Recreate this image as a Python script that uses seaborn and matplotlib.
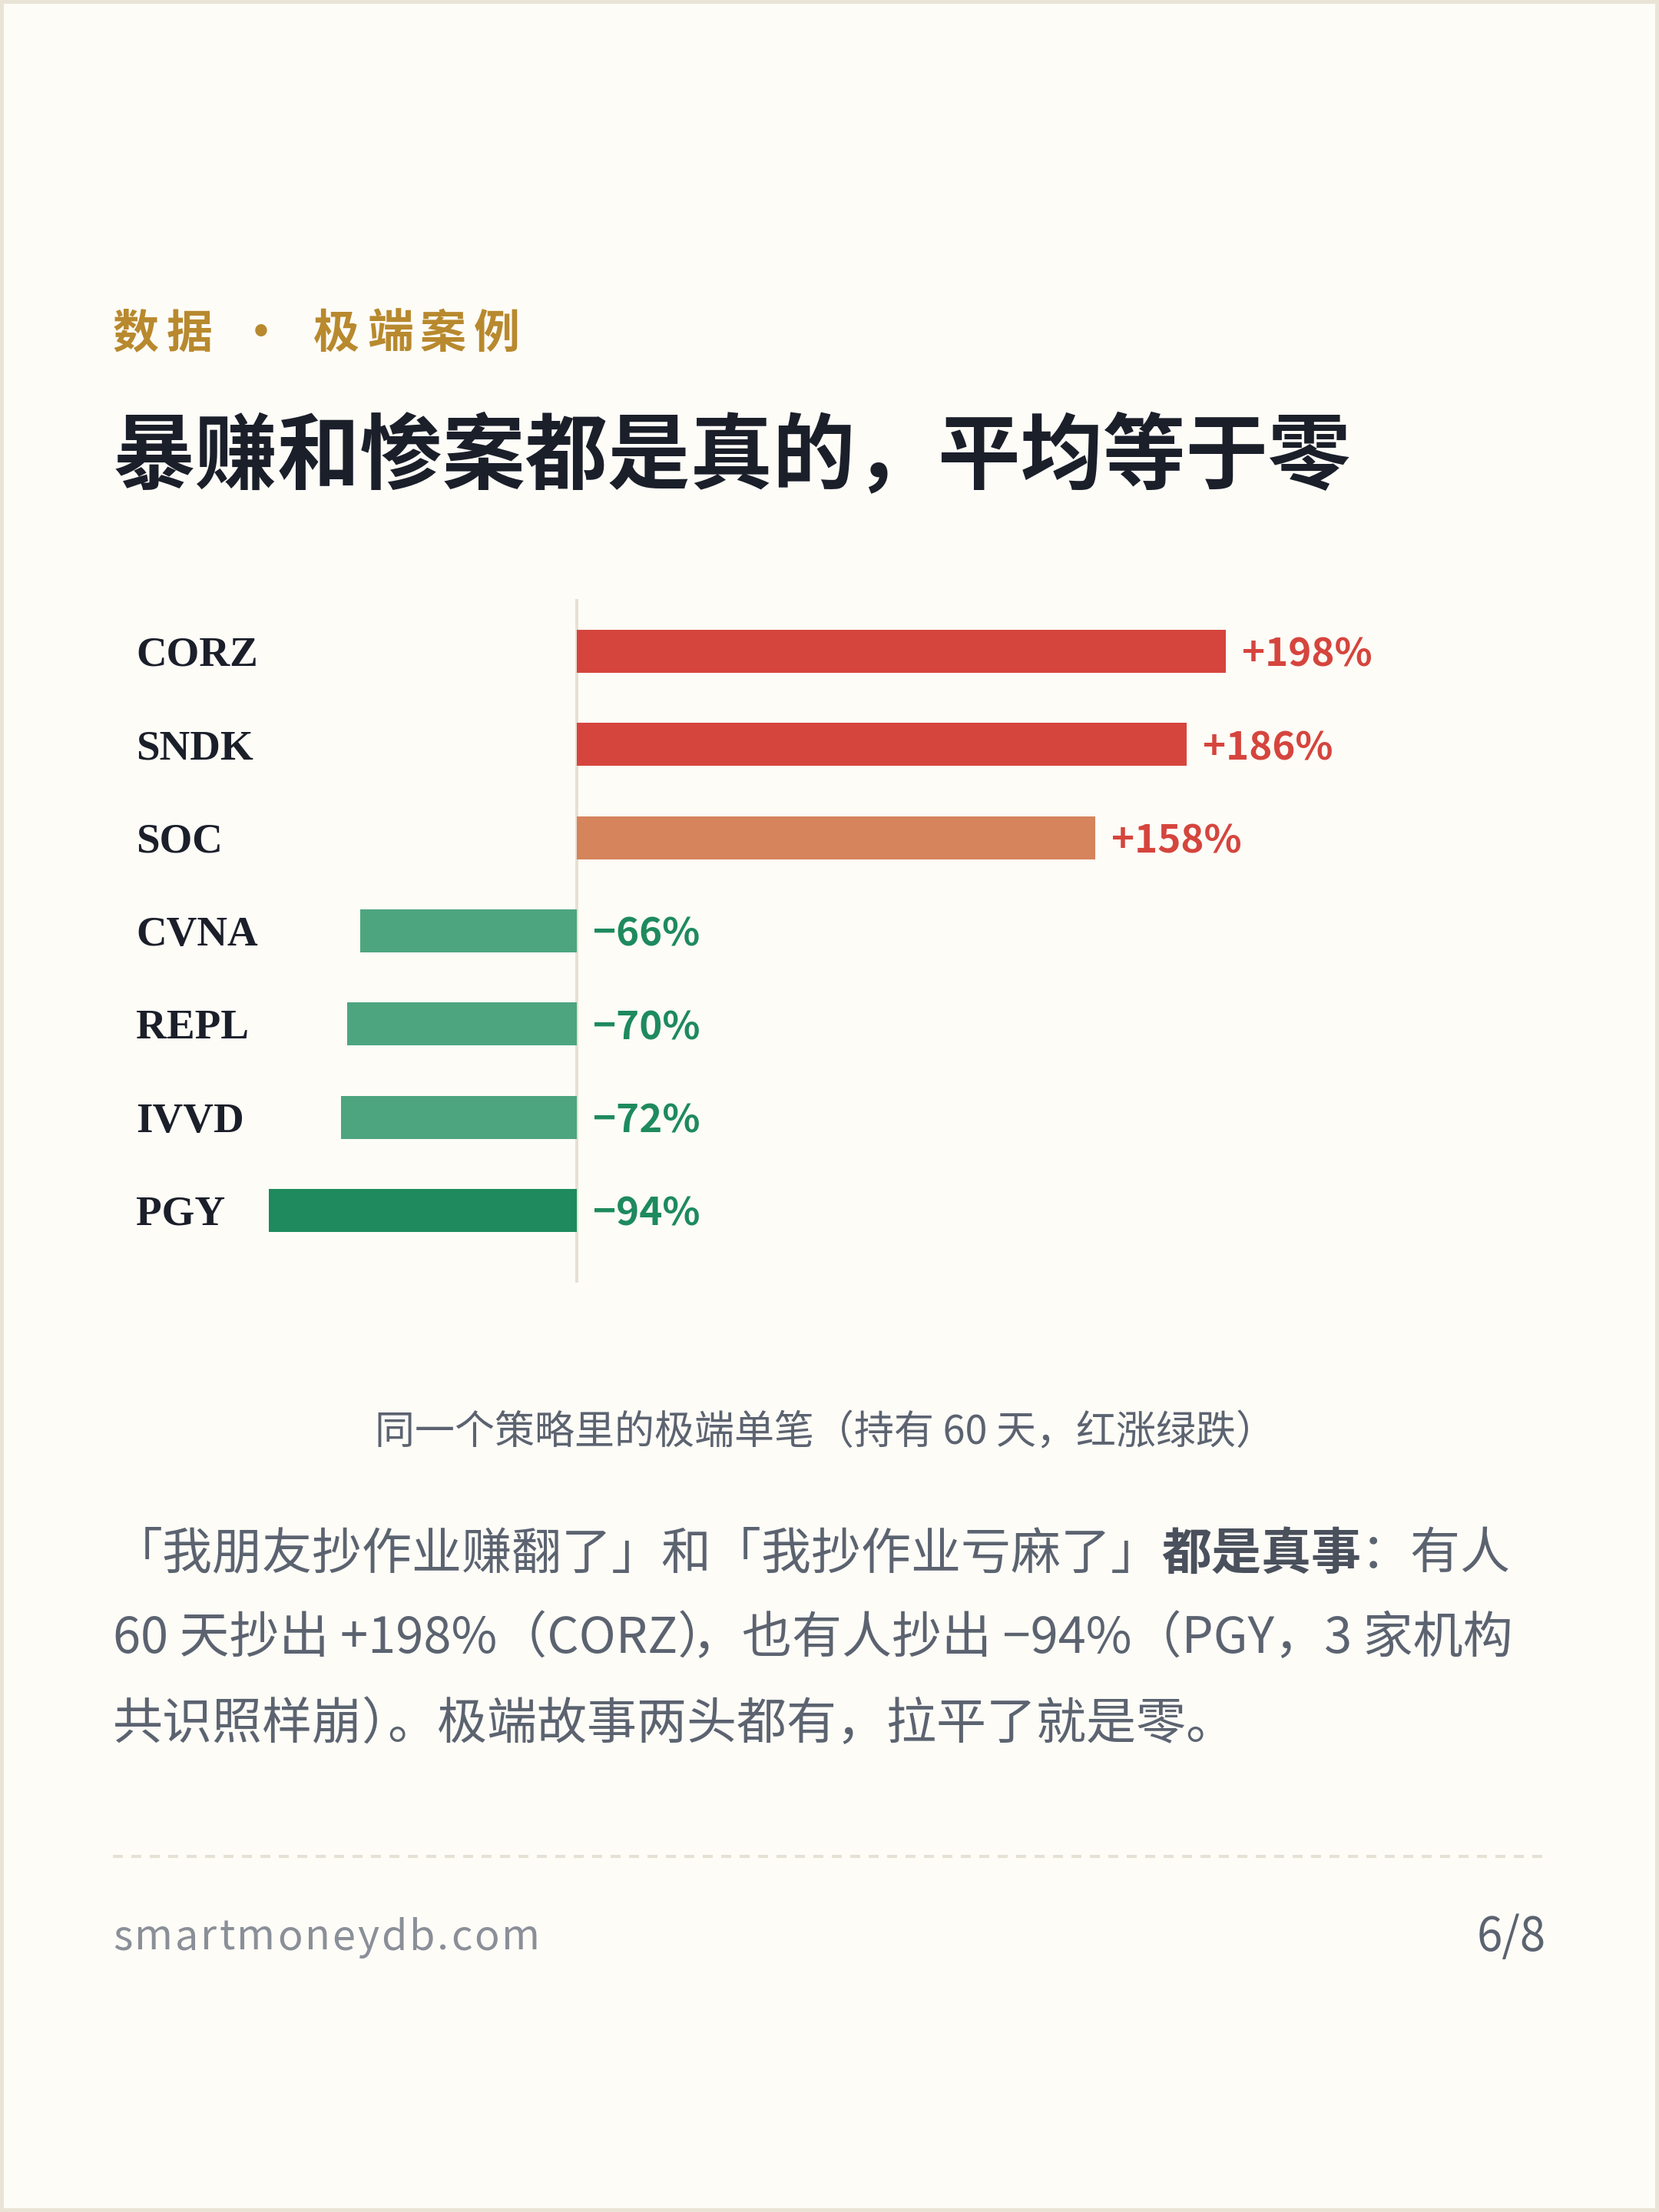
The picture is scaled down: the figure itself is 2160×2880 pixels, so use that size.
import matplotlib
matplotlib.use("Agg")
import matplotlib.pyplot as plt
import matplotlib.transforms as mtransforms
from matplotlib.font_manager import FontProperties, findfont, get_font
from matplotlib.lines import Line2D
from matplotlib.patches import Rectangle
import seaborn as sns
import pandas as pd

# ---------------- data ----------------
tickers = ["CORZ", "SNDK", "SOC", "CVNA", "REPL", "IVVD", "PGY"]
returns = [198, 186, 158, -66, -70, -72, -94]
value_labels = ["+198%", "+186%", "+158%", "−66%", "−70%", "−72%", "−94%"]
bar_colors = ["#D5453D", "#D5453D", "#D5845C", "#4DA57F", "#4DA57F", "#4DA57F", "#1E8A5D"]

kicker_chars = ["数", "据", "极", "端", "案", "例"]
title_text = "暴赚和惨案都是真的，平均等于零"
caption_text = "同一个策略里的极端单笔（持有 60 天，红涨绿跌）"
para_line1 = ["「我朋友抄作业赚翻了」和「我抄作业亏麻了」", "都是真事", "：有人"]
para_line2 = ["60 天抄出 +198%（CORZ）", "，也有人抄出 −94%（PGY，3 家机构"]
para_line3 = ["共识照样崩）", "。极端故事两头都有，拉平了就是零。"]
footer_left = "smartmoneydb.com"
footer_right = "6/8"

# ---------------- style ----------------
W, H, DPI = 2160, 2880, 100
BG = "#FDFCF7"
sns.set_theme(style="white")
SANS = ["Noto Sans CJK SC", "DejaVu Sans"]
SERIF = ["Liberation Serif", "DejaVu Serif"]
plt.rcParams["font.family"] = SANS
plt.rcParams["axes.unicode_minus"] = False


def pt(px):
    return px * 72.0 / DPI


fig = plt.figure(figsize=(W / DPI, H / DPI), dpi=DPI, facecolor=BG)


def fx(x):
    return x / W


def fy(y):
    return 1 - y / H


# border
fig.patches.append(Rectangle((0, 0), 1, 1, transform=fig.transFigure,
                             facecolor="none", edgecolor="#E9E4D6",
                             linewidth=pt(10), zorder=10))

# ---------------- kicker ----------------
GOLD = "#B8892E"
kicker_x = [147, 217, 408, 478, 547, 617]
for ch, x in zip(kicker_chars, kicker_x):
    fig.text(fx(x), fy(435), ch, fontsize=pt(60), fontweight="bold",
             color=GOLD, ha="left", va="center", family=SANS)
fig.text(fx(340), fy(435), "·", fontsize=pt(60), fontweight="bold",
         color=GOLD, ha="center", va="center", family=SANS)

# ---------------- title ----------------
DARK = "#1B1F2A"
fig.text(fx(147), fy(597), title_text, fontsize=pt(107.5), fontweight="bold",
         color=DARK, ha="left", va="center", family=SANS)

# ---------------- chart ----------------
ax_l, ax_r, ax_t, ax_b = 300, 2013, 780, 1670
ax = fig.add_axes([fx(ax_l), fy(ax_b), fx(ax_r - ax_l), (ax_b - ax_t) / H])
ax.set_facecolor("none")

df = pd.DataFrame({"ticker": tickers, "ret": returns})
sns.barplot(data=df, x="ret", y="ticker", hue="ticker", palette=bar_colors,
            order=tickers, hue_order=tickers, legend=False, width=0.46,
            orient="h", ax=ax, saturation=1, linewidth=0)

px_per_pct = 4.27
ax.set_xlim(-(751 - ax_l) / px_per_pct, (ax_r - 751) / px_per_pct)
ax.set_ylim(6.775, -0.56)
ax.axvline(0, color="#E6E0D3", linewidth=pt(4), zorder=0)
for s in ax.spines.values():
    s.set_visible(False)
ax.set_xticks([])
ax.set_yticks([])
ax.set_xlabel("")
ax.set_ylabel("")

label_tr = mtransforms.blended_transform_factory(fig.transFigure, ax.transData)
off = mtransforms.ScaledTranslation(21 / DPI, 0, fig.dpi_scale_trans)
for i, (t, v, lab) in enumerate(zip(tickers, returns, value_labels)):
    ax.text(fx(177), i, t, transform=label_tr, fontsize=pt(55),
            fontweight="bold", family=SERIF, color=DARK,
            ha="left", va="center_baseline")
    xv = v if v > 0 else 0
    col = "#D5453D" if v > 0 else "#1E8A5D"
    ax.text(xv, i, lab, transform=ax.transData + off, fontsize=pt(51),
            fontweight="bold", family=SANS, color=col,
            ha="left", va="center_baseline")

# ---------------- caption ----------------
GRAY = "#5C6370"
fig.text(fx(1075), fy(1866), caption_text, fontsize=pt(52), color=GRAY,
         ha="center", va="center", family=SANS)

# ---------------- paragraph ----------------
PPX = 65
x0 = 147
pos = 0
weights = ["normal", "bold", "normal"]
colors = [GRAY, "#4A505C", GRAY]
for seg, wgt, c in zip(para_line1, weights, colors):
    fig.text(fx(x0 + pos * PPX), fy(2024), seg, fontsize=pt(PPX),
             fontweight=wgt, color=c, ha="left", va="center", family=SANS)
    pos += len(seg)
# line 2: closing bracket before comma is half-width
fig.text(fx(x0), fy(2134), para_line2[0], fontsize=pt(PPX), color=GRAY,
         ha="left", va="center", family=SANS)
fig.text(fx(1970), fy(2134), para_line2[1], fontsize=pt(PPX), color=GRAY,
         ha="right", va="center", family=SANS)
# line 3: closing bracket before full stop is half-width
fig.text(fx(x0), fy(2246), para_line3[0], fontsize=pt(PPX), color=GRAY,
         ha="left", va="center", family=SANS)
fig.text(fx(x0 + (len(para_line3[0]) - 0.5) * PPX), fy(2246), para_line3[1],
         fontsize=pt(PPX), color=GRAY, ha="left", va="center", family=SANS)

# ---------------- divider ----------------
ln = Line2D([fx(147), fx(2013)], [fy(2417), fy(2417)], transform=fig.transFigure,
            color="#E6E1D5", linewidth=pt(4))
ln.set_dashes((3.25, 2.75))
fig.lines.append(ln)

# ---------------- footer ----------------
FPX = 54
target_w = 556
fp = FontProperties(family=SANS, size=pt(FPX))
renderer = fig.canvas.get_renderer()
probe = fig.text(0, 0, footer_left, fontproperties=fp)
w_full = probe.get_window_extent(renderer).width
probe_last = fig.text(0, 0, footer_left[-1], fontproperties=fp)
w_last = probe_last.get_window_extent(renderer).width
probe.remove()
probe_last.remove()
try:
    font = get_font(findfont(fp))
    font.set_size(pt(FPX), DPI)
    advs = [font.load_char(ord(c)).linearHoriAdvance / 65536.0 for c in footer_left]
except Exception:
    advs = [1.0] * len(footer_left)
k = (w_full - w_last) / sum(advs[:-1])
advs = [a * k for a in advs]
spacing = max(0.0, (target_w - w_full) / (len(footer_left) - 1))
xx = 147
for c, a in zip(footer_left, advs):
    fig.text(fx(xx), fy(2523), c, fontproperties=fp, color="#8A8F98",
             ha="left", va="center")
    xx += a + spacing
fig.text(fx(2013), fy(2523), footer_right, fontsize=pt(60), color=GRAY,
         ha="right", va="center", family=SANS)

fig.savefig("out.png", dpi=DPI, facecolor=BG)
